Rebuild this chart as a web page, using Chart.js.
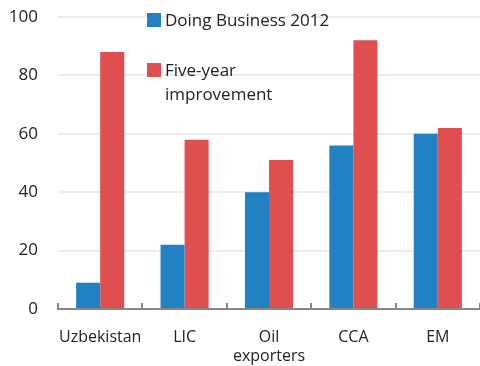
<!DOCTYPE html>
<html>
<head>
<meta charset="utf-8">
<script src="https://cdn.jsdelivr.net/npm/chart.js@4"></script>
<style>
  html, body { margin: 0; padding: 0; background: #fff; }
  #wrap { position: relative; width: 480px; height: 366px; }
  .legend { position: absolute; left: 147px; font-family: "Open Sans", sans-serif; font-size: 17px; color: #222; line-height: 24px; }
  .legend .box { position: absolute; left: 0; top: 5px; width: 14px; height: 14px; }
  .legend .txt { margin-left: 18px; }
</style>
</head>
<body>
<div id="wrap">
  <canvas id="myChart" width="480" height="366"></canvas>
  <div class="legend" style="top: 8px;"><span class="box" style="background:#2281c3"></span><div class="txt">Doing Business 2012</div></div>
  <div class="legend" style="top: 58px;"><span class="box" style="background:#df4f4f"></span><div class="txt">Five-year<br>improvement</div></div>
</div>
<script>
const labels = ["Uzbekistan", "LIC", ["Oil", "exporters"], "CCA", "EM"]
const doingBusiness = [9, 22, 40, 56, 60]
const fiveYear = [88, 58, 51, 92, 62]
const yTicks = [0, 20, 40, 60, 80, 100]

// small tick marks between categories, pointing up from the axis
const upTicks = {
  id: 'upTicks',
  afterDraw(chart) {
    const x = chart.scales.x
    const c = chart.ctx
    const step = x.getPixelForValue(1) - x.getPixelForValue(0)
    c.save()
    c.strokeStyle = "#888"
    c.lineWidth = 2
    for (let i = 0; i <= labels.length; i++) {
      const px = Math.round(x.getPixelForValue(0) - step / 2 + i * step)
      c.beginPath()
      c.moveTo(px, x.top)
      c.lineTo(px, x.top - 6)
      c.stroke()
    }
    c.restore()
  }
}

const ctx = document.getElementById("myChart")
new Chart(ctx, {
  type: "bar",
  data: {
    labels: labels,
    datasets: [
      { label: "Doing Business 2012", data: doingBusiness, backgroundColor: "#2281c3" },
      { label: "Five-year improvement", data: fiveYear, backgroundColor: "#df4f4f" },
    ],
  },
  options: {
    responsive: false,
    animation: false,
    layout: { padding: { top: 17, right: 0, left: 0, bottom: 0 } },
    datasets: {
      bar: { categoryPercentage: 0.57, barPercentage: 1.0 },
    },
    plugins: {
      legend: { display: false },
      tooltip: { enabled: false },
    },
    scales: {
      x: {
        afterFit(scale) { scale.height = 57 },
        grid: { display: false },
        border: { color: "#888", width: 2 },
        ticks: {
          color: "#222",
          padding: 11,
          autoSkip: false,
          font: { family: "'Open Sans', sans-serif", size: 16 },
          maxRotation: 0,
        },
      },
      y: {
        min: 0,
        max: 100,
        afterFit(scale) {
          scale.width = 58
          scale.paddingTop = 0
          scale.paddingBottom = 0
        },
        afterBuildTicks(scale) { scale.ticks = yTicks.map(v => ({ value: v })) },
        border: { display: false },
        grid: { color: "#ececec", lineWidth: 2, drawTicks: false },
        ticks: {
          color: "#222",
          padding: 20,
          font: { family: "'Open Sans', sans-serif", size: 17 },
        },
      },
    },
  },
  plugins: [upTicks],
})
</script>
</body>
</html>
